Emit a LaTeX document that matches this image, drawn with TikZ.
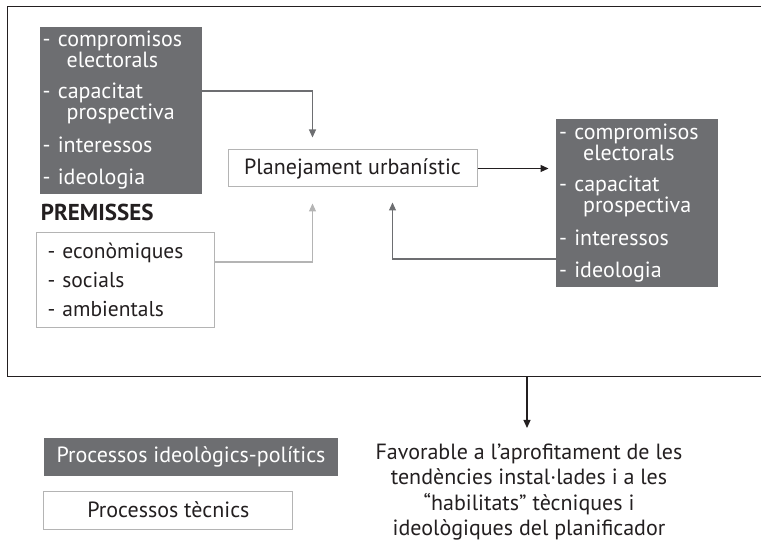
\documentclass[tikz,border=0pt]{standalone}
\usepackage{fontspec}
\setmainfont{PT Sans}
\definecolor{darkgrey}{RGB}{109,110,113}
\definecolor{lightgrey}{RGB}{180,180,180}
\definecolor{inkgrey}{RGB}{35,31,32}
\usetikzlibrary{arrows.meta,positioning}

\newcommand{\politems}{- compromisos\\\hspace*{24pt}electorals\\[12pt]- capacitat\\\hspace*{24pt}prospectiva\\[12pt]- interessos\\[12pt]- ideologia}

\begin{document}
\begin{tikzpicture}[x=1pt,y=-1pt,>={Triangle[length=8pt,width=7pt]},line width=1.2pt,
	every node/.style={font=\fontsize{22}{19.5}\selectfont,text=inkgrey}]
	\tikzstyle{polbox}=[fill=darkgrey,text=white,inner sep=0pt,inner xsep=3pt,minimum width=162pt,align=left]
	\tikzstyle{tecbox}=[draw=lightgrey,fill=white,line width=1pt,inner sep=0pt,align=left]
	\tikzstyle{polarrow}=[->,draw=darkgrey]
	\tikzstyle{tecarrow}=[->,draw=lightgrey]
	\tikzstyle{mainarrow}=[->,draw=inkgrey]

	\useasboundingbox (0,0) rectangle (761,545);
	% marc
	\draw[inkgrey,line width=1pt] (761,7) -| (7,377) -- (761,377);

	\node[polbox,minimum height=167pt,text width=156pt,anchor=north west] (pol1) at (39,26) {\politems};
	\node[tecbox,minimum width=249pt,minimum height=37pt,align=center] (pla) at (352.5,168.5) {Planejament urbanístic};
	\node[polbox,minimum height=168pt,text width=156pt,right=78pt of pla,yshift=-34.5pt] (pol2) {\politems};
	\node[anchor=west,font=\fontsize{23}{20}\selectfont\bfseries] (prem) at (37,212) {PREMISSES};
	\node[tecbox,minimum width=167pt,minimum height=95pt,text width=156pt,inner xsep=11pt,anchor=north west,
		font=\fontsize{21.5}{20}\selectfont] (tec) at (36,232) {- econòmiques\\[9pt]- socials\\[9pt]- ambientals};

	% llegenda
	\node[polbox,minimum width=294pt,minimum height=38pt] (leg1) at (191,457) {Processos ideològics-polítics};
	\node[tecbox,minimum width=249pt,minimum height=38pt,below right=14pt and 0pt of leg1.south west] (leg2) {Processos tècnics};

	\node[align=center,anchor=north,inner sep=0pt,font=\fontsize{22}{25.5}\selectfont] (res) at (529,443)
		{Favorable a l’aprofitament de les\\tendències instal·lades i a les\\“habilitats” tècniques i\\ideològiques del planificador};
	\coordinate (out) at (527,377);

	\draw[polarrow] ([yshift=-65pt]pol1.north east) -| ([xshift=-40pt,yshift=12pt]pla.north);
	\draw[tecarrow] ([yshift=18pt]tec.east) -| ([xshift=-40pt,yshift=-16pt]pla.south);
	\draw[mainarrow,shorten >=7pt] (pla.east) -- (pla.east -| pol2.west);
	\draw[polarrow] ([yshift=-56pt]pol2.west) -| ([xshift=40pt,yshift=-15pt]pla.south);
	\draw[mainarrow,shorten >=15pt] (out) -- (out |- res.north);
\end{tikzpicture}
\end{document}
